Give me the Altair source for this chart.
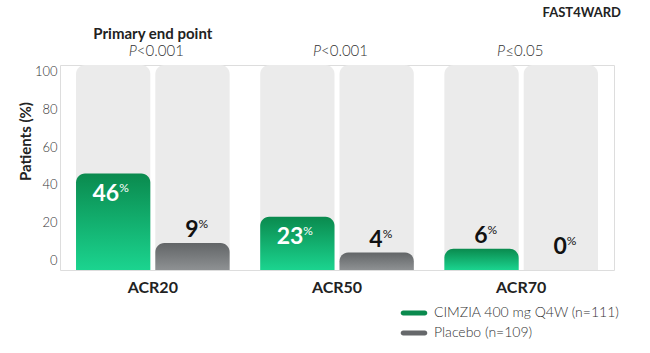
import altair as alt
import pandas as pd

# ---- data ----
groups = ["ACR20", "ACR50", "ACR70"]
series = ["CIMZIA 400 mg Q4W (n=111)", "Placebo (n=109)"]
cimzia = [46, 23, 6]
placebo = [9, 4, 0]
p_values = ["<0.001", "<0.001", "≤0.05"]
headline = ["Primary end point", "", ""]
y_ticks = [0, 20, 40, 60, 80, 100]

rows = []
for g, c, p in zip(groups, cimzia, placebo):
    rows.append({"group": g, "series": series[0], "value": c})
    rows.append({"group": g, "series": series[1], "value": p})
df = pd.DataFrame(rows)
ann = pd.DataFrame({"group": groups, "p": p_values, "head": headline})

FONT = "Lato"
Y_LO, Y_HI = -5.3, 103.7

yscale = alt.Scale(domain=[Y_LO, Y_HI], nice=False, zero=False)
x_enc = alt.X("group:N", sort=groups, title=None,
              scale=alt.Scale(paddingInner=0.166, paddingOuter=0.087),
              axis=alt.Axis(labelFontSize=16, labelFontWeight="bold", labelColor="#222",
                            labelFont=FONT, labelPadding=9, ticks=False, domain=False,
                            labelAngle=0))
xo_enc = alt.XOffset("series:N", sort=series, scale=alt.Scale(paddingInner=0.063))

green = alt.Gradient(gradient="linear", x1=0, x2=0, y1=0, y2=1,
                     stops=[alt.GradientStop(color="#0a8a4e", offset=0),
                            alt.GradientStop(color="#1bd48f", offset=1)])
grey = alt.Gradient(gradient="linear", x1=0, x2=0, y1=0, y2=1,
                    stops=[alt.GradientStop(color="#626567", offset=0),
                           alt.GradientStop(color="#8e9193", offset=1)])

base = alt.Chart(df)

background = base.mark_bar(color="#ebebeb", cornerRadiusTopLeft=9, cornerRadiusTopRight=9).encode(
    x=x_enc, xOffset=xo_enc,
    y=alt.Y("top:Q", scale=yscale,
            axis=alt.Axis(values=y_ticks, grid=False, domain=False, ticks=False,
                          labelFontSize=13, labelColor="#333", labelFont=FONT,
                          labelFontWeight=300, labelPadding=3,
                          title="Patients (%)", titleFont=FONT, titleFontSize=15,
                          titleFontWeight="bold", titleColor="#222",
                          titleX=-35, titleY=76, titleAngle=270,
                          titleAlign="center", titleBaseline="middle")),
    y2=alt.Y2("bottom:Q"),
).transform_calculate(top=str(Y_HI), bottom=str(Y_LO))

green_bars = base.mark_bar(color=green, cornerRadiusTopLeft=9, cornerRadiusTopRight=9).encode(
    x=x_enc, xOffset=xo_enc, y=alt.Y("value:Q", scale=yscale), y2=alt.Y2("bottom:Q")
).transform_filter(alt.datum.series == series[0]).transform_filter(
    alt.datum.value > 0).transform_calculate(bottom=str(Y_LO))

grey_bars = base.mark_bar(color=grey, cornerRadiusTopLeft=9, cornerRadiusTopRight=9).encode(
    x=x_enc, xOffset=xo_enc, y=alt.Y("value:Q", scale=yscale), y2=alt.Y2("bottom:Q")
).transform_filter(alt.datum.series == series[1]).transform_filter(
    alt.datum.value > 0).transform_calculate(bottom=str(Y_LO))

# legend source (invisible marks); pill-shaped swatches
PILL = "M-1.6,-0.37L1.6,-0.37A0.37,0.37,0,0,1,1.6,0.37L-1.6,0.37A0.37,0.37,0,0,1,-1.6,-0.37Z"
legend_src = base.mark_point(filled=True, opacity=0).encode(
    x=x_enc, xOffset=xo_enc, y=alt.Y("value:Q", scale=yscale),
    color=alt.Color("series:N", sort=series,
                    scale=alt.Scale(domain=series, range=["#0a8a4e", "#66686b"]),
                    legend=alt.Legend(title=None, orient="none", legendX=347, legendY=241,
                                      padding=0, symbolOpacity=1,
                                      symbolType=PILL, symbolSize=182, symbolStrokeWidth=0,
                                      labelFont=FONT, labelFontSize=14, labelFontWeight=300,
                                      labelColor="#333", labelOffset=13, rowPadding=6,
                                      labelLimit=300)),
)

inside_cond = (alt.datum.series == series[0]) & (alt.datum.value >= 15)
outside_cond = ~((alt.datum.series == series[0]) & (alt.datum.value >= 15))

num_in = base.mark_text(font=FONT, fontSize=23, fontWeight="bold", color="white",
                        align="right", baseline="alphabetic", dx=6, dy=27).encode(
    x=x_enc, xOffset=xo_enc, y=alt.Y("value:Q", scale=yscale), text="value:Q"
).transform_filter(inside_cond)
pct_in = base.mark_text(font=FONT, fontSize=12, color="white",
                        align="left", baseline="alphabetic", dx=6, dy=18, text="%").encode(
    x=x_enc, xOffset=xo_enc, y=alt.Y("value:Q", scale=yscale)
).transform_filter(inside_cond)

num_out = base.mark_text(font=FONT, fontSize=23, fontWeight="bold", color="#111",
                         align="right", baseline="alphabetic", dx=6, dy=-6).encode(
    x=x_enc, xOffset=xo_enc, y=alt.Y("value:Q", scale=yscale), text="value:Q"
).transform_filter(outside_cond)
pct_out = base.mark_text(font=FONT, fontSize=12, color="#111",
                         align="left", baseline="alphabetic", dx=6, dy=-15, text="%").encode(
    x=x_enc, xOffset=xo_enc, y=alt.Y("value:Q", scale=yscale)
).transform_filter(outside_cond)

a = alt.Chart(ann)
p_italic = a.mark_text(font=FONT, fontSize=15, fontStyle="italic", fontWeight=300, color="#333",
                       align="right", baseline="alphabetic", dx=-16, text="P").encode(
    x=x_enc, y=alt.value(-9))
p_rest = a.mark_text(font=FONT, fontSize=15, fontWeight=300, color="#333",
                     align="left", baseline="alphabetic", dx=-16).encode(
    x=x_enc, y=alt.value(-9), text="p:N")
head = a.mark_text(font=FONT, fontSize=15, fontWeight="bold", color="#222",
                   align="center", baseline="alphabetic").encode(
    x=x_enc, y=alt.value(-26), text="head:N").transform_filter(alt.datum.head != "")

chart = alt.layer(
    background, green_bars, grey_bars, legend_src,
    num_in, pct_in, num_out, pct_out, p_italic, p_rest, head
).properties(
    width=554, height=205,
    title=alt.TitleParams("FAST4WARD", anchor="end", font=FONT, fontSize=13,
                          fontWeight="bold", color="#222", offset=7, dx=1),
    autosize=alt.AutoSizeParams(type="none"),
    padding={"left": 60, "top": 65, "right": 36, "bottom": 83},
).configure_view(stroke=None).configure(background="white")

chart.save("out.html", embed_options={"renderer": "svg", "actions": False})
